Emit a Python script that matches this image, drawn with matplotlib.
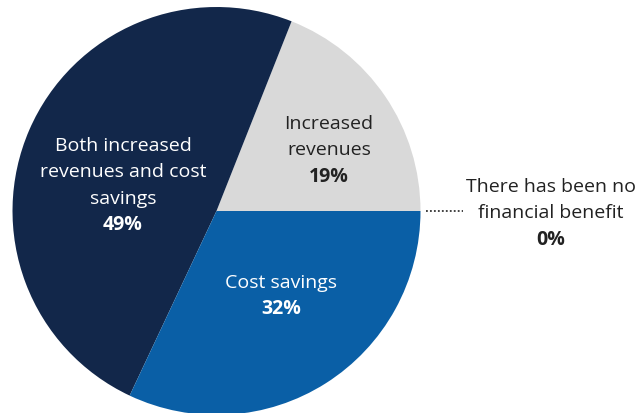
import matplotlib
matplotlib.use("Agg")
import matplotlib.pyplot as plt

# Survey shares by type of financial benefit
categories = ["Increased revenues", "Both increased revenues and cost savings",
              "Cost savings", "There has been no financial benefit"]
shares = [19, 49, 32, 0]

# Wrapped label lines for each category
label_lines = [
    ["Increased", "revenues"],
    ["Both increased", "revenues and cost", "savings"],
    ["Cost savings"],
    ["There has been no", "financial benefit"],
]

colors = ["#d9d9d9", "#12274a", "#0a5fa6", "#ffffff"]
text_colors = ["#222222", "#ffffff", "#ffffff", "#222222"]

plt.rcParams["font.family"] = ["Open Sans", "DejaVu Sans"]

W, H, DPI = 643, 414, 100
cx, cy, R = 216.5, 212.0, 204.0  # pie centre and radius in pixels

fig = plt.figure(figsize=(W / DPI, H / DPI), dpi=DPI)
ax = fig.add_axes([0, 0, 1, 1])

ax.pie(shares, colors=colors, startangle=0, counterclock=True, radius=1,
       center=(0, 0), frame=True, wedgeprops=dict(linewidth=0))
ax.set_xlim(-cx / R, (W - cx) / R)
ax.set_ylim(-(H - cy) / R, cy / R)
ax.set_aspect("equal")
ax.axis("off")


def px(x, y):
    return (x - cx) / R, (cy - y) / R


# Label block anchors: centre x and y of first line (pixels), line step
anchors = [(329, 124), (123, 146), (281, 283), (551, 187)]
step = 26.5
fs = 14.0

for lines, val, (ax_px, ay_px), tc in zip(label_lines, shares, anchors, text_colors):
    for i, line in enumerate(lines):
        x, y = px(ax_px, ay_px + i * step)
        ax.text(x, y, line, ha="center", va="center", fontsize=fs, color=tc)
    x, y = px(ax_px, ay_px + len(lines) * step)
    ax.text(x, y, f"{val}%", ha="center", va="center", fontsize=fs,
            fontweight="bold", color=tc)

# Leader line to the zero-share label
x0, y0 = px(426, 212)
x1, _ = px(463, 212)
ax.plot([x0, x1], [y0, y0], color="#333333", linewidth=1.3,
        linestyle=(0, (1, 1.2)), solid_capstyle="butt")

fig.savefig("out.png", dpi=DPI)
